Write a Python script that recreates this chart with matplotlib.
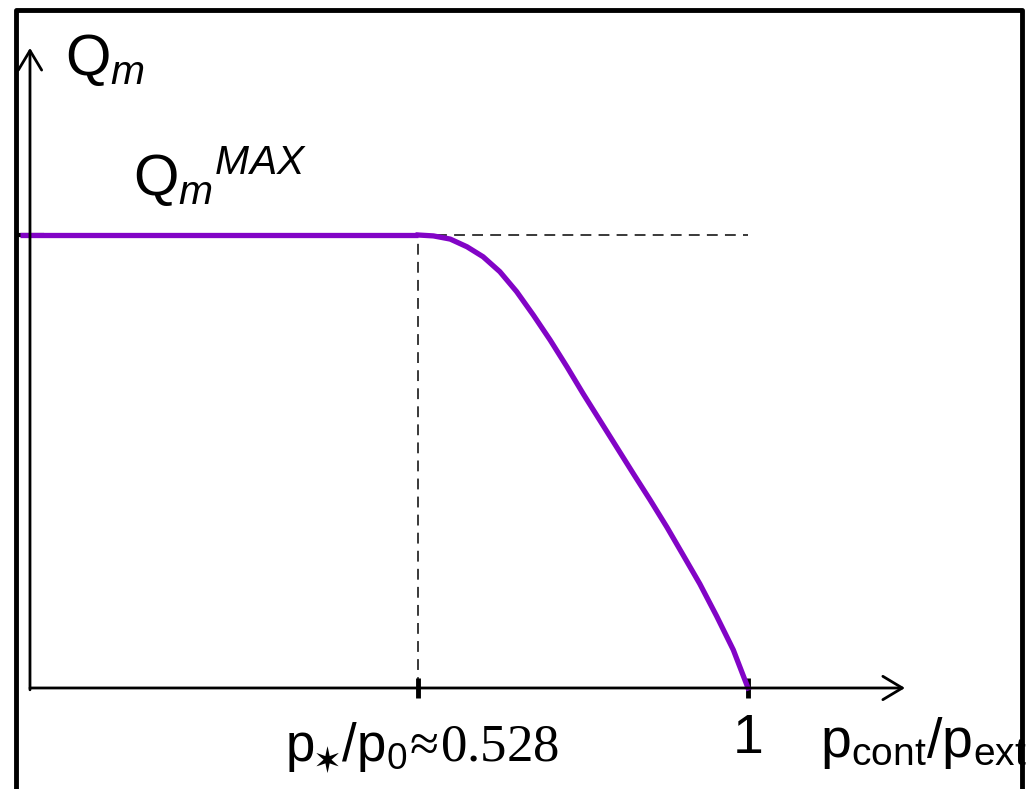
import matplotlib
matplotlib.use("Agg")
import matplotlib.pyplot as plt
from matplotlib.lines import Line2D

plt.rcParams['font.family'] = ['Liberation Sans', 'DejaVu Sans']
plt.rcParams['mathtext.fontset'] = 'custom'
plt.rcParams['mathtext.rm'] = 'Liberation Serif'
plt.rcParams['mathtext.sf'] = 'Liberation Sans'
plt.rcParams['mathtext.it'] = 'Liberation Sans:italic'
plt.rcParams['mathtext.bf'] = 'Liberation Sans:bold'
plt.rcParams['mathtext.fallback'] = 'stixsans'

# flow rate curve (x = p_cont/p_ext, y = Q_m / Q_m^MAX)
p_crit = 0.528
flat_x = [-0.041, 0.528]
flat_y = [1.0, 1.0]
curve_x = [0.528, 0.550, 0.574, 0.598, 0.621, 0.645, 0.669, 0.693, 0.717,
           0.741, 0.764, 0.788, 0.812, 0.836, 0.860, 0.884, 0.907, 0.931,
           0.955, 0.979, 1.000]
curve_y = [1.000, 0.998, 0.991, 0.974, 0.952, 0.919, 0.875, 0.823, 0.768,
           0.709, 0.650, 0.591, 0.532, 0.473, 0.415, 0.355, 0.294, 0.230,
           0.159, 0.084, 0.000]
tick_pos = [p_crit, 1.0]
tick_labels = ['', '1']

purple = '#8204c6'
star = '\u2736'

fig = plt.figure(figsize=(10.36, 7.89), dpi=100)
ax = fig.add_axes([0, 0, 1, 1])
ax.set_xlim(-0.0701, 1.412)
ax.set_ylim(-0.2230, 1.5188)
ax.axis('off')

# axes with open arrow heads
arr = dict(arrowstyle='->,head_length=0.7,head_width=0.42', lw=2.0,
           color='black', mutation_scale=20, shrinkA=0, shrinkB=0)
ax.annotate('', xy=(1.2246, 0), xytext=(-0.0272, 0), arrowprops=arr)
ax.annotate('', xy=(-0.0272, 1.413), xytext=(-0.0272, -0.004), arrowprops=arr)

# dashed guides
ax.plot([p_crit, p_crit], [0, 1], ls=(0, (6, 4)), color='#2a2a2a', lw=1.3)
ax.plot([p_crit, 1.0], [1, 1], ls=(0, (6, 4)), color='#2a2a2a', lw=1.3)

# small tick at Q_m^MAX and on the x axis
ax.plot([-0.0415, -0.010], [1, 1], color='black', lw=3)
ax.vlines(tick_pos, -0.022, 0.022, color='black', lw=3.5)

ax.plot(flat_x, flat_y, color=purple, lw=3.8, solid_capstyle='butt')
ax.plot(curve_x, curve_y, color=purple, lw=3.8, solid_joinstyle='round')

for xp, lab in zip(tick_pos, tick_labels):
    if lab:
        ax.text(xp, -0.143, lab, ha='center', va='baseline', fontsize=40)

ax.text(0.337, -0.163,
        r'$\mathsf{p}_{' + star + r'}\mathsf{/p}_{\mathsf{0}}\!\approx\!\mathrm{0.528}$',
        ha='left', va='baseline', fontsize=38)
ax.text(1.103, -0.152,
        r'$\mathsf{p}_{\mathsf{cont}}\mathsf{/p}_{\mathsf{ext}}$',
        ha='left', va='baseline', fontsize=40)

ax.text(0.023, 1.353, r'$\mathsf{Q}_{m}$', ha='left', va='baseline', fontsize=42)
ax.text(0.120, 1.088, r'$\mathsf{Q}_{m}{}^{MAX}$', ha='left', va='baseline',
        fontsize=42)

# frame around the picture (no bottom edge)
W, H = 1036.0, 789.0
fig.add_artist(Line2D([16 / W, 16 / W, 1022 / W, 1022 / W],
                      [0, 1 - 10 / H, 1 - 10 / H, 0],
                      color='black', lw=3.5, transform=fig.transFigure))

fig.savefig('out.png', dpi=100)
